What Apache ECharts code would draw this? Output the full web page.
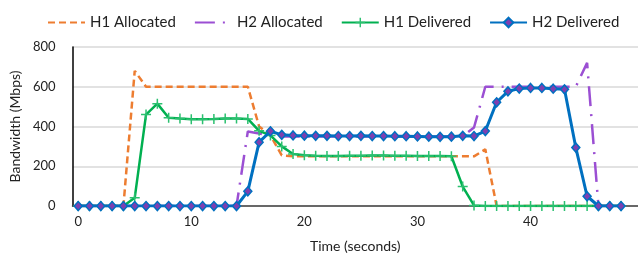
<!DOCTYPE html>
<html>
<head>
<meta charset="utf-8">
<script src="https://cdn.jsdelivr.net/npm/echarts@6/dist/echarts.min.js"></script>
<style>html,body{margin:0;padding:0;background:#fff;}#c{width:638px;height:258px;}</style>
</head>
<body>
<div id="c"></div>
<script>
// Time categories (seconds); last slot is empty
var categories = [];
for (var i = 0; i < 50; i++) categories.push(String(i));

var yTicks = [0, 200, 400, 600, 800];

var h1Allocated = [0,0,0,0,0,680,600,600,600,600,600,600,600,600,600,600,400,355,255,250,
  250,250,250,250,250,250,250,250,250,250,250,250,250,250,250,250,285,0,0,0,
  0,0,0,0,0,0,0,0,0];

var h2Allocated = [0,0,0,0,0,0,0,0,0,0,0,0,0,0,0,375,365,355,350,350,
  350,350,350,350,350,350,350,350,350,350,350,350,350,350,350,395,600,600,600,600,
  600,600,600,600,600,720,0,0,0];

var h1Delivered = [0,0,0,0,0,41,460,515,444,440,437,437,438,440,440,438,378,355,300,262,
  255,253,252,252,253,253,254,254,253,253,252,252,252,250,98,3,0,0,0,0,
  0,0,0,0,0,0,0,0,0];

var h2Delivered = [0,0,0,0,0,0,0,0,0,0,0,0,0,0,0,74,321,376,358,355,
  354,353,353,352,352,353,352,352,351,351,350,349,348,349,353,352,377,522,577,591,
  594,594,590,587,294,49,0,0,0];

var FONT = 'Lato';
var chart = echarts.init(document.getElementById('c'), null, {renderer: 'canvas'});
var plus = 'path://M4.25,0H5.75V4.25H10V5.75H5.75V10H4.25V5.75H0V4.25H4.25Z';

chart.setOption({
  animation: false,
  backgroundColor: '#fff',
  textStyle: {fontFamily: FONT},
  legend: {
    left: 42, top: 10,
    itemWidth: 37, itemHeight: 12, itemGap: 18,
    textStyle: {fontFamily: FONT, fontSize: 15, color: '#222'},
    data: [
      {name: 'H1 Allocated', itemStyle: {opacity: 0}},
      {name: 'H2 Allocated', itemStyle: {opacity: 0}},
      {name: 'H1 Delivered'},
      {name: 'H2 Delivered'}
    ]
  },
  grid: {left: 71, right: 0, top: 47, bottom: 51, containLabel: false},
  xAxis: {
    type: 'category',
    data: categories,
    boundaryGap: true,
    name: 'Time (seconds)',
    nameLocation: 'middle',
    nameGap: 33,
    nameTextStyle: {fontFamily: FONT, fontSize: 14, color: '#222'},
    axisLine: {lineStyle: {color: '#404040', width: 1.5}},
    axisTick: {show: false},
    axisLabel: {
      interval: function (idx) { return idx % 10 === 0; },
      margin: 9, fontFamily: FONT, fontSize: 13, color: '#222'
    },
    splitLine: {show: false}
  },
  yAxis: {
    type: 'value',
    min: yTicks[0], max: yTicks[yTicks.length - 1], interval: 200,
    name: 'Bandwidth (Mbps)',
    nameLocation: 'middle',
    nameGap: 43,
    nameTextStyle: {fontFamily: FONT, fontSize: 14, color: '#222'},
    axisLine: {show: true, lineStyle: {color: '#000', width: 1.5}},
    axisTick: {show: false},
    axisLabel: {margin: 17, fontFamily: FONT, fontSize: 13, color: '#222'},
    splitLine: {lineStyle: {color: '#d9d9d9', width: 1.5}}
  },
  series: [
    {
      name: 'H1 Allocated', type: 'line', data: h1Allocated,
      symbol: 'none', z: 1,
      itemStyle: {color: '#ED7D31'},
      lineStyle: {color: '#ED7D31', width: 2.5, type: [7, 4]}
    },
    {
      name: 'H2 Allocated', type: 'line', data: h2Allocated,
      symbol: 'none', z: 2,
      itemStyle: {color: '#9B4FD3'},
      lineStyle: {color: '#9B4FD3', width: 2.5, type: [20, 8, 2, 8]}
    },
    {
      name: 'H1 Delivered', type: 'line', data: h1Delivered,
      symbol: plus, symbolSize: 10, z: 3, showAllSymbol: true,
      itemStyle: {color: '#2cc070'},
      lineStyle: {color: '#00B050', width: 2.5}
    },
    {
      name: 'H2 Delivered', type: 'line', data: h2Delivered,
      symbol: 'diamond', symbolSize: [8, 9], z: 4, showAllSymbol: true,
      itemStyle: {color: '#7E3FB0', borderColor: '#0070C0', borderWidth: 1.5},
      lineStyle: {color: '#0070C0', width: 3}
    }
  ]
});
</script>
</body>
</html>
